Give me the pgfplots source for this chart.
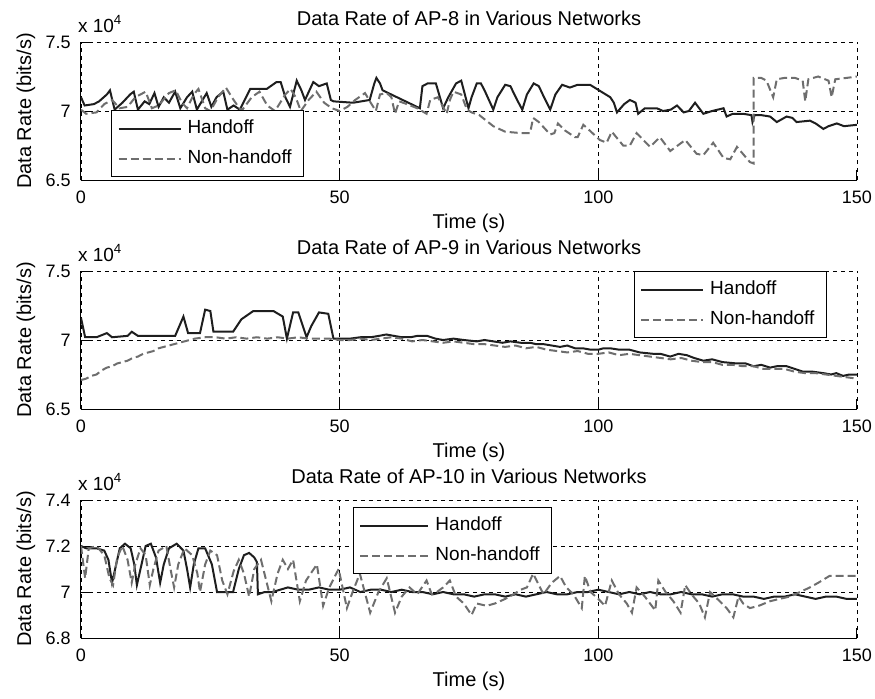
\documentclass[border=0pt]{standalone}
\usepackage{fontspec}
\setmainfont{Liberation Sans}
\usepackage{pgfplots}
\pgfplotsset{compat=1.18}
\definecolor{hcol}{HTML}{1E1E1E}
\definecolor{ncol}{HTML}{6E6E6E}
\pgfplotsset{
  mysub/.style={
    scale only axis, width=388pt, height=69pt,
    xmin=0, xmax=150, xtick={0,50,100,150},
    axis x line*=bottom, axis y line*=left,
    tick align=inside, major tick length=5pt,
    grid=major,
    major grid style={black, line width=0.4pt, dash pattern=on 2pt off 2pt},
    axis line style={black, line width=0.5pt, -},
    tick style={black, line width=0.5pt},
    scaled y ticks=base 10:-4,
    ytick scale label code/.code={x 10\textsuperscript{4}},
    every y tick scale label/.style={at={(axis description cs:0,1)}, anchor=base west, inner sep=0pt, yshift=5pt, font=\fontsize{9.5}{11}\selectfont},
    /pgf/number format/assume math mode=true,
    tick label style={font=\fontsize{9}{10}\selectfont},
    xticklabel style={anchor=base, yshift=-11.8pt},
    yticklabel style={xshift=-1.7pt},
    title style={at={(axis description cs:0.5,1)}, anchor=base, yshift=2.5pt, font=\fontsize{10}{12}\selectfont},
    xlabel={Time (s)},
    xlabel style={at={(axis description cs:0.5,0)}, anchor=base, yshift=-24pt, font=\fontsize{10}{12}\selectfont},
    ylabel={Data Rate (bits/s)},
    ylabel style={at={(axis description cs:-0.0644,0.5)}, anchor=base, font=\fontsize{10}{12}\selectfont},
    legend cell align=left,
    legend style={draw=black, line width=0.5pt, fill=white, font=\fontsize{9.5}{11}\selectfont, inner xsep=3pt, inner ysep=1.5pt, nodes={inner sep=3pt, text height=7pt, text depth=2pt}},
    legend image code/.code={\draw[#1] (0pt,0pt) -- (31pt,0pt);},
  },
  hand/.style={color=hcol, line width=1pt, solid},
  nonh/.style={color=ncol, line width=1pt, dash pattern=on 4pt off 2pt},
}
\begin{document}
\begin{tikzpicture}
\useasboundingbox (0,0) rectangle (437.5pt,-349pt);
% ---------------- AP-8
\begin{axis}[mysub, at={(40.5pt,-90pt)}, anchor=south west,
  ymin=65000, ymax=75000, ytick={65000,70000,75000},
  title={Data Rate of AP-8 in Various Networks},
  legend style={at={(axis description cs:0.0387,0.0217)}, anchor=south west}]
\addplot[hand] coordinates {(0,71000)(0.7,70400)(2.5,70500)(3.5,70700)(5,71200)(5.6,71500)(6.5,70100)(8,70600)(9.5,71200)(10.2,71400)(11,70100)(12.3,70700)(13.2,70500)(14.2,71300)(15,70300)(16,71000)(17,70600)(18.2,71400)(19.2,70200)(20.5,71000)(21.5,71400)(22.4,70100)(23.5,70800)(24.3,71300)(25.2,70300)(26.2,71000)(27.5,71400)(28.3,70100)(29.5,70400)(30.7,70100)(32.7,71600)(35.9,71600)(37.8,72100)(38.6,72100)(39.5,71000)(40.4,70300)(41.7,72200)(42.6,71500)(43.3,70800)(44.9,72100)(46,71800)(47.5,72000)(48.3,70800)(48.8,70700)(52.6,70600)(55.8,70800)(56.7,72000)(57.1,72400)(57.8,72000)(58.3,71500)(65.5,70200)(66,71800)(67,72000)(68.6,72000)(70,70200)(71,71000)(72.5,72000)(73.5,72200)(74.9,70200)(75.5,71000)(76.5,72000)(77.3,72000)(78,71500)(79.7,70100)(80.5,71000)(82,71900)(83,71800)(84.3,70800)(85.3,70100)(86.2,71200)(87.5,72000)(88.5,71800)(89.5,71000)(90.7,70100)(91.7,71200)(93,71900)(94.5,71700)(96,71900)(98.4,71900)(102.3,71000)(103,70600)(103.6,69900)(105,70500)(106.1,70800)(107.2,70600)(107.7,69800)(109,70200)(111.3,70200)(112.5,70000)(114,70100)(115.2,70400)(116.5,69900)(117.5,70000)(118.7,70600)(120.3,69800)(122,70000)(124.2,70200)(124.8,69600)(126,69800)(128,69800)(129.6,69700)(129.8,69200)(130.2,69700)(131.5,69700)(133.2,69600)(134.5,69200)(136.4,69600)(137.5,69500)(138.3,69200)(140.9,69300)(142,69100)(143.5,68700)(144.5,68900)(146.1,69100)(147.5,68900)(150,69000)};
\addplot[nonh] coordinates {(0,70100)(1,69800)(3,69900)(4.5,70500)(6,70800)(7.5,70200)(9,70300)(10.5,71000)(12.5,71400)(13.7,70200)(15,70400)(17,71300)(18.3,71500)(19.5,70600)(20.5,70200)(21.8,71200)(22.7,71600)(24,70200)(25,70000)(26.5,71000)(28,71700)(29.5,70800)(31,70000)(33,71000)(34.5,71400)(36,70400)(37.5,70000)(39.5,71200)(40.5,71600)(41.5,71000)(42.5,70000)(44,70800)(45.5,71400)(47,70600)(48.5,70200)(50,70000)(51.5,70300)(53,70800)(54.9,71300)(56,70600)(57,70000)(57.8,71200)(59.1,71300)(60,71000)(60.7,69800)(61.5,70700)(63,70500)(65,70200)(66.8,69800)(67.5,70800)(69,71000)(70.7,69800)(71.3,70800)(72,71400)(73.5,71200)(74.6,70100)(75.5,69900)(77,69700)(79.7,68900)(82,68500)(85,68400)(86.8,68400)(87.4,69500)(88.5,69200)(90.7,68300)(91.5,68400)(92.2,69100)(93.5,68600)(95.5,68100)(96,68100)(97.1,69000)(98,68700)(100.3,67900)(101.6,67700)(102.6,68500)(104.8,67500)(106.1,67500)(107.4,68400)(110,67400)(111.9,68100)(113.9,67100)(116.8,67900)(119,66900)(120.3,66800)(122.2,67700)(124.2,66600)(125.5,66500)(126.8,67400)(129.3,66300)(130,66200)(130,72400)(131.5,72400)(132.5,72200)(133.8,71000)(134.5,72300)(136,72400)(138,72400)(139.5,72200)(140,70700)(140.6,72300)(142.5,72500)(144.5,72200)(145.1,71000)(145.8,72300)(148,72400)(150,72500)};
\legend{Handoff,Non-handoff}
\end{axis}
% ---------------- AP-9
\begin{axis}[mysub, at={(40.5pt,-204.5pt)}, anchor=south west,
  ymin=65000, ymax=75000, ytick={65000,70000,75000},
  title={Data Rate of AP-9 in Various Networks},
  legend style={at={(axis description cs:0.9613,1)}, anchor=north east}]
\addplot[hand] coordinates {(0,71600)(0.8,70200)(3,70200)(5,70500)(6,70200)(9,70300)(9.8,70600)(11,70300)(16,70300)(18.2,70300)(19.8,71700)(20.7,70500)(23,70500)(24,72200)(25,72100)(25.6,70600)(29.4,70600)(31,71500)(33.3,72100)(37.2,72100)(39,71700)(39.8,70100)(41,72000)(42,72000)(43.6,70200)(44.5,71000)(46,72000)(47.8,71900)(48.8,70100)(50,70100)(52,70100)(54,70200)(56,70200)(57.6,70300)(59,70400)(60.5,70300)(62,70200)(63.7,70200)(65,70300)(66.9,70300)(68.5,70100)(70,70000)(72,70100)(74,70000)(76.5,69900)(78,70000)(79.7,69900)(81.5,69800)(83,69900)(85,69800)(86.8,69800)(88,69700)(89.4,69700)(91,69600)(92.6,69500)(94,69600)(95.5,69400)(97,69400)(98.5,69300)(100,69300)(101,69400)(102.3,69400)(104,69300)(106,69300)(108,69100)(110.6,69000)(112,69000)(113.9,68800)(115.5,69000)(117.1,68900)(118.5,68700)(120.3,68500)(122,68600)(124,68400)(126.8,68300)(128.5,68300)(130,68100)(131.5,68200)(133.2,68000)(134.5,68100)(136.4,68100)(138,67900)(139.6,67700)(141.5,67700)(143.5,67600)(145,67500)(146,67600)(147.3,67400)(148.5,67500)(150,67500)};
\addplot[nonh] coordinates {(0,67100)(1,67200)(2,67400)(3,67500)(4,67800)(5,68000)(6,68100)(7,68300)(8,68400)(9,68500)(10,68700)(11,68800)(12,69000)(13,69100)(14,69200)(15,69400)(16,69500)(17,69600)(18,69700)(19,69800)(20,69900)(21,70000)(22,70100)(24,70200)(26,70200)(28,70100)(30,70200)(32,70100)(34,70200)(36,70100)(38,70200)(40,70100)(42,70200)(44,70100)(46,70100)(48,70100)(50,70000)(52,70000)(54,70100)(56,70000)(58,70100)(60,70200)(62,70100)(64,69900)(66,70000)(68,69900)(70,69800)(72,69900)(74,69800)(76,69700)(78,69700)(80,69600)(82,69500)(84,69600)(86,69400)(88,69500)(90,69300)(92,69200)(94,69100)(96,69200)(98,69000)(100,69000)(102,69100)(104,68900)(106,69000)(108,68900)(110,68800)(112,68700)(114,68600)(116,68700)(118,68500)(120,68400)(122,68400)(124,68200)(126,68200)(128,68100)(130,68100)(132,67900)(134,67900)(136,67900)(138,67700)(140,67600)(142,67600)(144,67500)(146,67400)(148,67300)(150,67200)};
\legend{Handoff,Non-handoff}
\end{axis}
% ---------------- AP-10
\begin{axis}[mysub, at={(40.5pt,-319pt)}, anchor=south west,
  ymin=68000, ymax=74000, ytick={68000,70000,72000,74000},
  title={Data Rate of AP-10 in Various Networks},
  legend image code/.code={\draw[#1] (0pt,0pt) -- (34pt,0pt);},
  legend style={at={(axis description cs:0.3505,0.949)}, anchor=north west}]
\addplot[hand] coordinates {(0,72000)(1,71900)(3,71900)(4.5,71800)(5.3,71400)(6,70400)(6.6,71000)(7.5,71900)(8.5,72100)(9.6,71900)(10.3,71200)(10.8,70300)(11.5,71000)(12.5,72000)(13.5,72100)(14.5,71500)(15.3,70400)(16,71200)(17,71900)(18.5,72100)(19.8,71800)(20.5,71000)(21.1,70200)(21.8,71200)(22.7,71900)(24,71900)(25.3,71200)(26.3,70000)(27,70000)(29.4,70000)(30.5,71000)(31.5,71600)(32.5,71700)(33.5,71500)(34,71300)(34.2,69900)(35.5,70000)(37,70000)(38.5,70100)(40,70200)(42,70100)(44,70100)(46,70200)(48,70100)(50,70100)(52,70200)(54,70000)(56,70100)(58,70100)(60,70000)(62,70100)(64,70000)(66,70000)(68,69900)(70,70000)(72,69900)(74,69900)(76,69800)(78,69900)(80,69900)(82,69800)(84,69900)(86,69800)(88,69900)(90,70000)(92,69900)(94,69900)(96,70000)(98,70000)(100,70100)(102,70000)(104,69900)(106,70000)(108,69900)(110,70000)(112,69900)(114,69900)(116,70000)(118,69900)(120,69900)(122,69800)(124,69900)(126,69900)(128,69800)(130,69800)(132,69700)(134,69800)(136,69800)(138,69900)(140,69800)(142,69700)(144,69800)(146,69800)(148,69700)(150,69700)};
\addplot[nonh] coordinates {(0,72000)(0.8,70600)(1.5,71900)(3,72000)(4.5,71600)(5.5,70600)(6.2,70300)(7,71500)(8,72000)(9,71400)(9.8,70400)(10.5,71200)(11.5,71900)(12.5,71600)(13.3,70300)(14,71000)(15,71800)(16.5,72000)(17.3,71000)(18,70200)(18.8,71200)(20,71900)(21.5,71600)(22.5,70800)(23,70000)(24,71200)(25,71800)(26.3,71600)(27.3,70500)(28.3,69900)(29.5,70900)(30.5,71400)(31.5,70800)(32.5,69800)(33.5,71000)(34.8,71400)(35.8,70500)(36.8,69600)(38,70800)(39,71400)(40,71000)(41,71400)(42.3,69600)(43.5,70500)(45.6,71200)(46.8,69400)(48,70200)(49.8,71000)(51.4,69300)(52.5,70000)(53.9,70800)(55.9,69100)(57.5,70000)(59.1,70600)(60.7,69100)(62,69800)(63.5,70200)(65,69900)(66.8,70500)(67.8,69900)(68.8,70000)(70,70200)(71.3,70500)(72.5,69800)(74,69500)(75.5,69000)(76.5,69500)(78.4,69400)(80,69500)(82,69700)(83.6,69900)(85,70100)(86.2,70200)(87.4,70800)(88.5,70300)(89.4,69900)(91,70400)(92.6,70700)(93.8,70200)(95.2,69900)(96.8,69300)(97.4,70700)(98.5,70000)(100,69700)(101.3,69400)(102.6,70500)(104,69900)(105.5,69500)(106.5,69100)(107.4,70200)(109,69800)(111,69200)(111.6,70500)(113,70000)(114.5,69600)(115.9,69100)(116.8,70300)(118,69900)(119.5,69500)(120.6,68900)(121.6,70000)(123,69700)(124.8,69300)(126.1,68900)(127.1,69800)(128,69500)(129.3,69300)(131,69400)(133.2,69600)(135,69700)(137,69800)(139,70000)(140.9,70200)(142.5,70400)(144.7,70700)(146.5,70700)(148,70700)(150,70700)};
\legend{Handoff,Non-handoff}
\end{axis}
\end{tikzpicture}
\end{document}
